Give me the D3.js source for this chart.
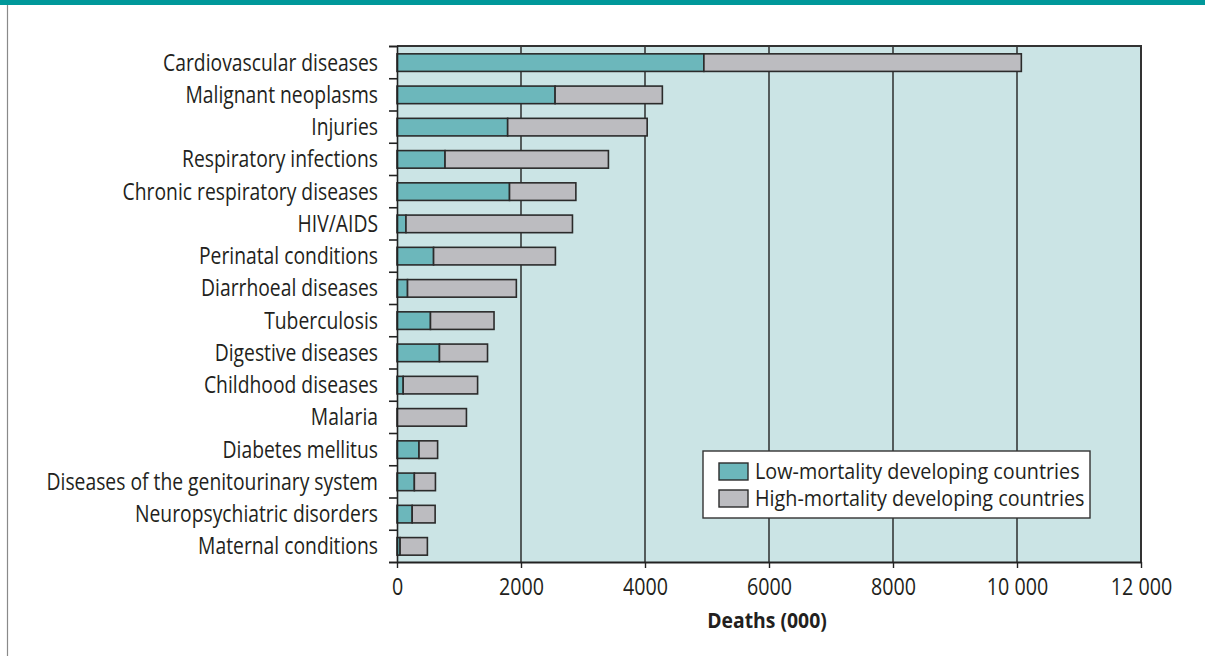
<!DOCTYPE html>
<html>
<head>
<meta charset="utf-8">
<script src="https://cdn.jsdelivr.net/npm/d3@7"></script>
<style>
  body { margin: 0; background: #fff; }
  svg { display: block; font-family: "Open Sans", sans-serif; }
</style>
</head>
<body>
<svg id="chart" width="1205" height="656"></svg>
<script>
// data, deaths in thousands
const causes = [
  "Cardiovascular diseases", "Malignant neoplasms", "Injuries", "Respiratory infections",
  "Chronic respiratory diseases", "HIV/AIDS", "Perinatal conditions", "Diarrhoeal diseases",
  "Tuberculosis", "Digestive diseases", "Childhood diseases", "Malaria", "Diabetes mellitus",
  "Diseases of the genitourinary system", "Neuropsychiatric disorders", "Maternal conditions"
]
const lowMortality  = [4950, 2550, 1785, 775, 1815, 145, 590, 170, 540, 685, 100, 0, 355, 280, 245, 50]
const highMortality = [5120, 1730, 2250, 2635, 1070, 2685, 1965, 1755, 1025, 775, 1200, 1120, 300, 340, 370, 440]
const xTicks = [0, 2000, 4000, 6000, 8000, 10000, 12000]
const seriesNames = ["Low-mortality developing countries", "High-mortality developing countries"]

const teal = "#6cb7bb", grey = "#bcbcc0", ink = "#231f20"

const svg = d3.select("#chart")
const pL = 397, pR = 1141, pT = 46, pB = 562

// frame: teal band on top and thin grey line at left
svg.append("rect").attr("x",0).attr("y",0).attr("width",1205).attr("height",5).attr("fill","#00989a")
svg.append("line").attr("x1",7.5).attr("x2",7.5).attr("y1",5).attr("y2",656).attr("stroke","#8a8a8a").attr("stroke-width",1.2)

const x = d3.scaleLinear().domain([0,12000]).range([pL,pR])
const y = d3.scaleBand().domain(causes).range([pT,pB]).paddingInner(0.455).paddingOuter(0.2275)
const yEdge = d3.scaleLinear().domain([0,causes.length]).range([pT,pB])

svg.append("rect").attr("x",pL).attr("y",pT).attr("width",pR-pL).attr("height",pB-pT).attr("fill","#cbe4e5")

// gridlines
svg.append("g").selectAll("line").data(xTicks.filter(d=>d>0 && d<12000))
  .join("line")
  .attr("x1",d=>x(d)).attr("x2",d=>x(d))
  .attr("y1",pT).attr("y2",pB)
  .attr("stroke","#222").attr("stroke-width",1.4)

// top and right border
svg.append("path").attr("d",`M${pL},${pT}H${pR}V${pB}`)
  .attr("fill","none").attr("stroke","#333").attr("stroke-width",2)

// bars
const rows = causes.map((c,i)=>({cause:c, low:lowMortality[i], high:highMortality[i]}))
const stack = d3.stack().keys(["low","high"])(rows)
const fills = [teal, grey]

svg.append("g").selectAll("g").data(stack).join("g")
  .attr("fill",(d,i)=>fills[i])
  .selectAll("rect").data(d=>d.filter(s=>s[1]-s[0]>0)).join("rect")
  .attr("x",d=>x(d[0]))
  .attr("width",d=>x(d[1])-x(d[0]))
  .attr("y",d=>y(d.data.cause)+0.5)
  .attr("height",y.bandwidth())
  .attr("stroke","#2b2b2b").attr("stroke-width",1.6)

// left axis: ticks between categories
svg.append("g").attr("transform",`translate(${pL},0)`)
  .call(d3.axisLeft(yEdge).ticks(causes.length).tickSize(8).tickFormat(""))
  .call(g=>g.select(".domain").attr("stroke","#222").attr("stroke-width",1.6))
  .call(g=>g.selectAll(".tick line").attr("stroke","#222").attr("stroke-width",1.6))

// category labels
svg.append("g").selectAll("text").data(causes).join("text")
  .attr("transform",d=>`translate(378,${y(d)+y.bandwidth()/2+0.5}) scale(0.84,1)`)
  .attr("text-anchor","end").attr("dy","0.35em")
  .attr("font-size",23).attr("fill",ink)
  .text(d=>d)

// bottom axis
const fmt = d => d >= 10000 ? d3.format(",")(d).replace(",", " ") : String(d)
svg.append("g").attr("transform",`translate(0,${pB})`)
  .call(d3.axisBottom(x).tickValues(xTicks).tickSize(6).tickSizeOuter(0).tickPadding(10).tickFormat(fmt))
  .call(g=>g.select(".domain").attr("stroke","#222").attr("stroke-width",1.8))
  .call(g=>g.selectAll(".tick line").attr("stroke","#222").attr("stroke-width",1.4))
  .call(g=>g.selectAll(".tick text").attr("font-size",24).attr("fill",ink)
    .attr("font-family","'Open Sans', sans-serif").attr("transform","scale(0.82,1)"))

svg.append("text")
  .attr("transform",`translate(${(pL+pR)/2-2},${628}) scale(0.88,1)`)
  .attr("text-anchor","middle").attr("font-weight","bold").attr("font-size",22).attr("fill",ink)
  .text("Deaths (000)")

// legend
const lg = svg.append("g").attr("transform","translate(703,451)")
lg.append("rect").attr("width",387).attr("height",67).attr("fill","#fff").attr("stroke","#333").attr("stroke-width",1.4)
const items = lg.selectAll("g").data(seriesNames).join("g")
  .attr("transform",(d,i)=>`translate(16,${12+i*27})`)
items.append("rect").attr("width",29).attr("height",17)
  .attr("fill",(d,i)=>fills[i]).attr("stroke","#2b2b2b").attr("stroke-width",1.4)
items.append("text")
  .attr("transform","translate(36,8.5) scale(0.92,1)")
  .attr("dy","0.35em").attr("font-size",21.5).attr("fill",ink)
  .text(d=>d)
</script>
</body>
</html>
